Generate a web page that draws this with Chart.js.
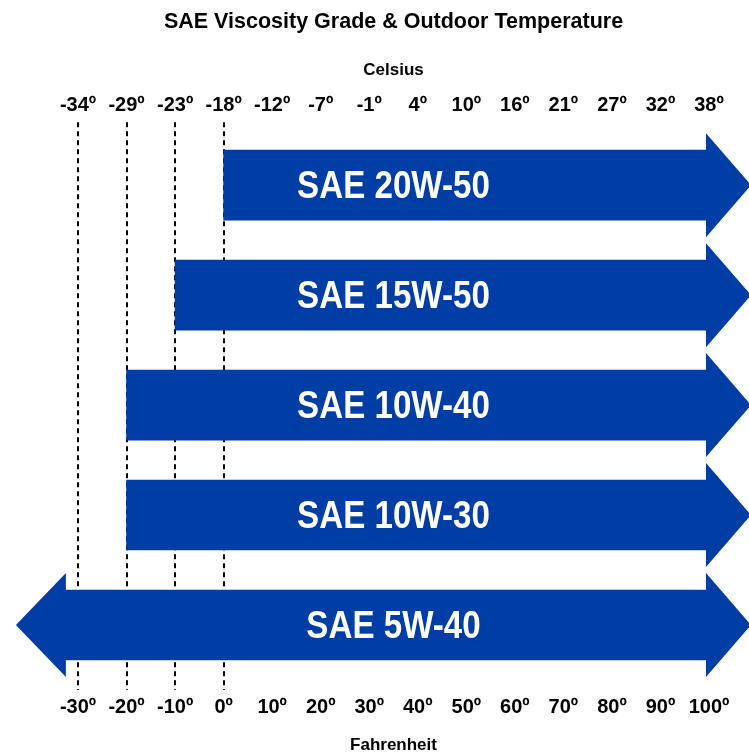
<!DOCTYPE html>
<html>
<head>
<meta charset="utf-8">
<script src="https://cdn.jsdelivr.net/npm/chart.js@4.4.0/dist/chart.umd.min.js"></script>
<style>
  html, body { margin: 0; padding: 0; background: #fff; }
  #wrap { width: 749px; height: 755px; }
</style>
</head>
<body>
<div id="wrap"><canvas id="viscChart" width="749" height="755"></canvas></div>
<script>
// Viscosity grades and their usable range (Fahrenheit)
const grades = ["SAE 20W-50", "SAE 15W-50", "SAE 10W-40", "SAE 10W-30", "SAE 5W-40"];
const lowF = [0, -10, -20, -20, -32.7];
const highF = [100, 100, 100, 100, 100];
const openLeft = [false, false, false, false, true];

// Axis ticks
const fahrenheitTicks = [-30, -20, -10, 0, 10, 20, 30, 40, 50, 60, 70, 80, 90, 100];
const celsiusLabels = ["-34º", "-29º", "-23º", "-18º", "-12º", "-7º", "-1º", "4º", "10º", "16º", "21º", "27º", "32º", "38º"];
const dashedAt = [-30, -20, -10, 0];

const BLUE = "#003DA5";
const FONT = "'Liberation Sans', Arial, sans-serif";
const X_MIN = -38.24;
const X_MAX = 108.24;
const LABEL_AT_F = 35;

// Dashed guide lines behind the bars
const guidePlugin = {
  id: "guides",
  beforeDatasetsDraw(chart) {
    const { ctx, chartArea, scales } = chart;
    ctx.save();
    ctx.strokeStyle = "#000";
    ctx.lineWidth = 2;
    ctx.setLineDash([5, 4]);
    dashedAt.forEach((v) => {
      const x = Math.round(scales.x.getPixelForValue(v));
      ctx.beginPath();
      ctx.moveTo(x, chartArea.top - 8);
      ctx.lineTo(x, chartArea.bottom + 10);
      ctx.stroke();
    });
    ctx.restore();
  },
};

// Arrow heads + grade text on the bars
const arrowPlugin = {
  id: "arrows",
  afterDatasetsDraw(chart) {
    const { ctx, scales } = chart;
    const meta = chart.getDatasetMeta(0);
    ctx.save();
    ctx.fillStyle = BLUE;
    meta.data.forEach((bar, i) => {
      const p = bar.getProps(["x", "base", "y", "height"], true);
      const right = Math.max(p.x, p.base);
      const left = Math.min(p.x, p.base);
      const half = p.height / 2 + 17;
      ctx.beginPath();
      ctx.moveTo(right - 3, p.y - half);
      ctx.lineTo(right + 42, p.y);
      ctx.lineTo(right - 3, p.y + half);
      ctx.closePath();
      ctx.fill();
      if (openLeft[i]) {
        ctx.beginPath();
        ctx.moveTo(left + 1, p.y - half);
        ctx.lineTo(left - 49, p.y);
        ctx.lineTo(left + 1, p.y + half);
        ctx.closePath();
        ctx.fill();
      }
    });
    // condensed white labels
    ctx.fillStyle = "#fff";
    ctx.font = "bold 39px " + FONT;
    ctx.textAlign = "center";
    ctx.textBaseline = "alphabetic";
    const lx = scales.x.getPixelForValue(LABEL_AT_F);
    meta.data.forEach((bar, i) => {
      ctx.save();
      ctx.translate(lx, bar.y + 13);
      ctx.scale(0.85, 1);
      ctx.fillText(grades[i], 0, 0);
      ctx.restore();
    });
    ctx.restore();
  },
};

new Chart(document.getElementById("viscChart"), {
  type: "bar",
  data: {
    labels: grades,
    datasets: [
      {
        data: lowF.map((l, i) => [l, highF[i]]),
        backgroundColor: BLUE,
        borderWidth: 0,
        borderSkipped: false,
        barThickness: 70,
      },
    ],
  },
  options: {
    indexAxis: "y",
    responsive: false,
    animation: false,
    devicePixelRatio: 1,
    layout: { padding: { top: 4, bottom: 0, left: 38, right: 0 } },
    plugins: {
      legend: { display: false },
      tooltip: { enabled: false },
      title: {
        display: true,
        text: "SAE Viscosity Grade & Outdoor Temperature",
        color: "#000",
        font: { family: FONT, size: 21.5, weight: "bold" },
        padding: { top: 5, bottom: 9 },
      },
    },
    scales: {
      y: { display: false },
      x: {
        type: "linear",
        position: "bottom",
        min: X_MIN,
        max: X_MAX,
        afterBuildTicks: (axis) => {
          axis.ticks = fahrenheitTicks.map((v) => ({ value: v }));
        },
        ticks: {
          color: "#000",
          padding: 16,
          maxRotation: 0,
          autoSkip: false,
          font: { family: FONT, size: 20, weight: "bold" },
          callback: (v) => v + "º",
        },
        grid: { display: false, drawTicks: false },
        border: { display: false },
        title: {
          display: true,
          text: "Fahrenheit",
          color: "#000",
          font: { family: FONT, size: 17, weight: "bold", lineHeight: 1.12 },
          padding: { top: 0, bottom: 0 },
        },
      },
      x2: {
        type: "linear",
        position: "top",
        min: X_MIN,
        max: X_MAX,
        afterBuildTicks: (axis) => {
          axis.ticks = fahrenheitTicks.map((v) => ({ value: v }));
        },
        ticks: {
          color: "#000",
          padding: 13,
          maxRotation: 0,
          autoSkip: false,
          font: { family: FONT, size: 20, weight: "bold" },
          callback: (v, idx) => celsiusLabels[idx],
        },
        grid: { display: false, drawTicks: false },
        border: { display: false },
        title: {
          display: true,
          text: "Celsius",
          color: "#000",
          font: { family: FONT, size: 17, weight: "bold" },
          padding: { top: 16, bottom: 0 },
        },
      },
    },
  },
  plugins: [guidePlugin, arrowPlugin],
});
</script>
</body>
</html>
